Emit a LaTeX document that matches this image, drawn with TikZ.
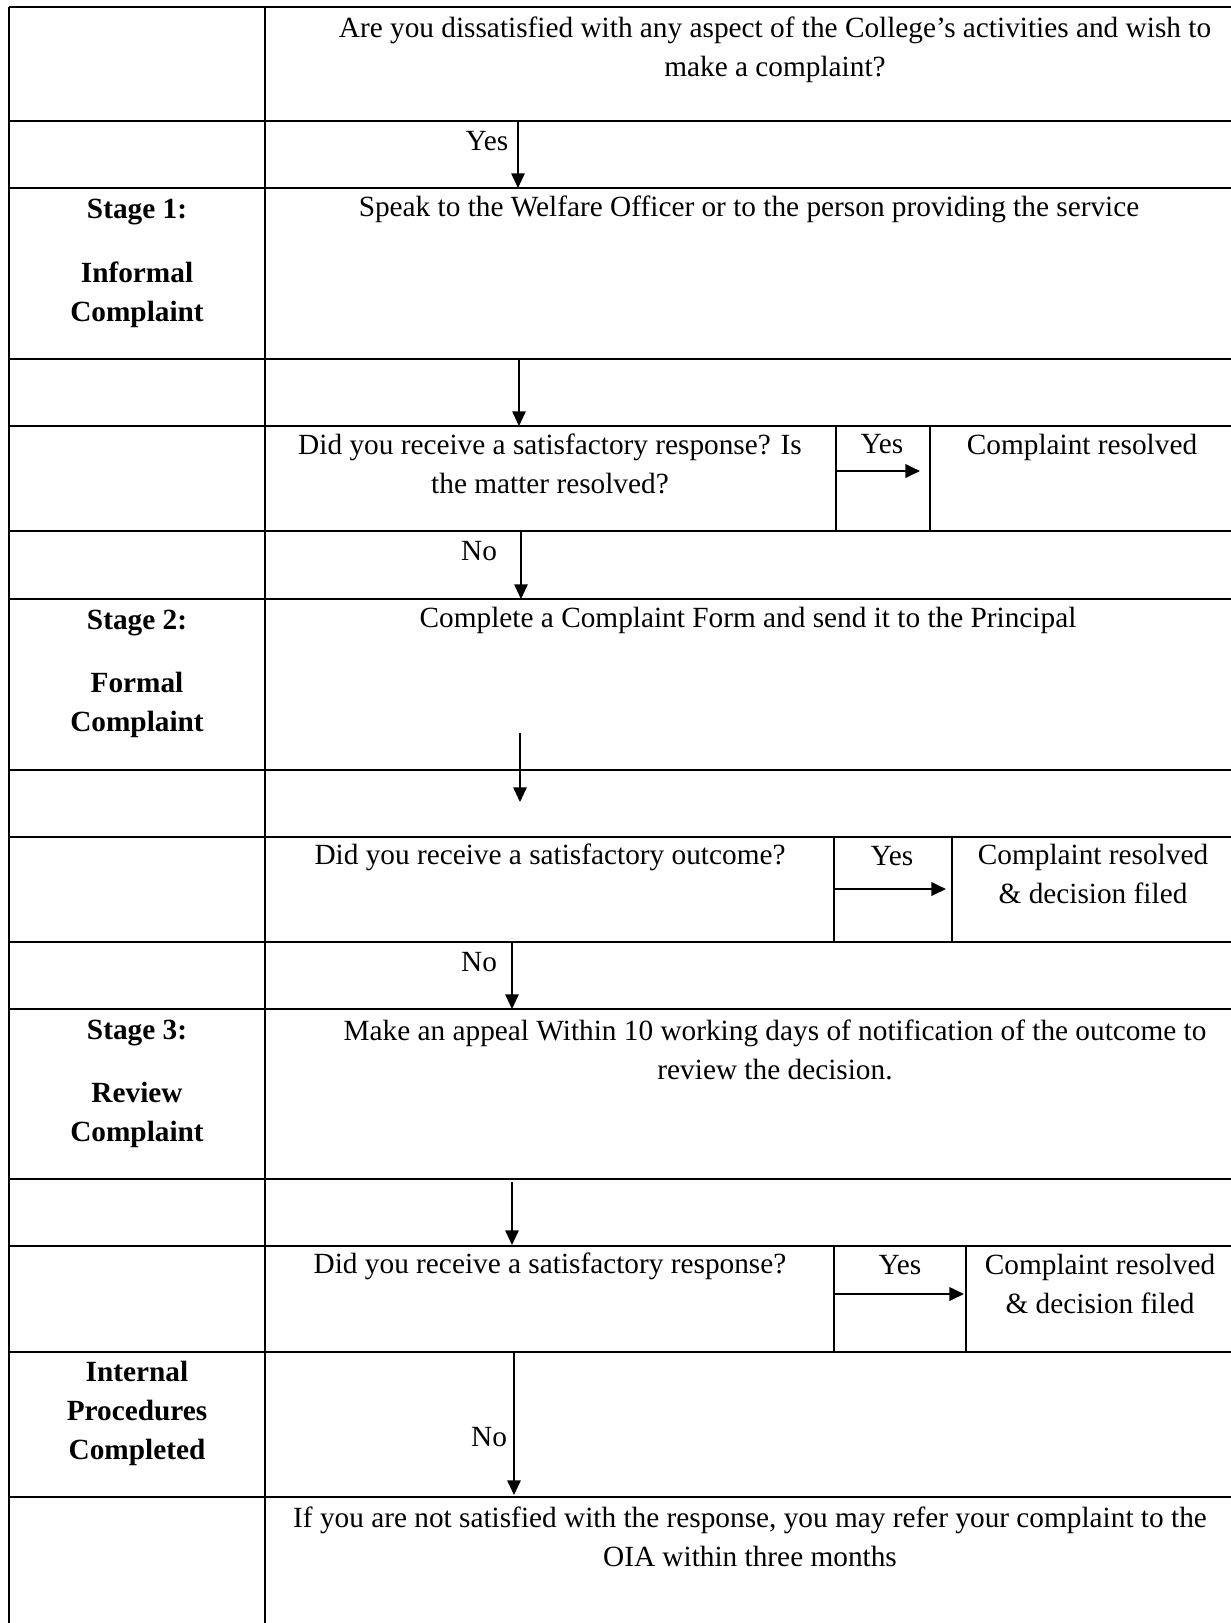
\documentclass[tikz,border=0pt]{standalone}
\usepackage{fontspec}
\setmainfont{Liberation Serif}
\usetikzlibrary{arrows.meta}
\tikzset{
  rule/.style={line width=1pt},
  thinrule/.style={line width=0.75pt},
  flow/.style={-{Triangle[length=6pt,width=5.5pt]}, line width=0.6pt},
  yesflow/.style={-{Triangle[length=6pt,width=5.5pt]}, line width=1pt},
  txt/.style={font=\fontsize{12}{16}\selectfont, align=center, inner sep=0pt},
  stagetxt/.style={txt, font=\fontsize{12}{16}\selectfont\bfseries}
}

\begin{document}
\begin{tikzpicture}[x=0.4096pt,y=-0.4096pt]
  \useasboundingbox (0,0) rectangle (1231,1623);
  \foreach \y in {7,121,188,359,426,531,599,770,837,942,1009,1179,1246,1352,1497}
    \draw[rule] (9,\y) -- (1231,\y);
  \draw[rule] (9,7) -- (9,1623);
  \draw[rule] (265,7) -- (265,1623);
  \draw[thinrule] (836,426) -- (836,531) (930,426) -- (930,531);
  \draw[thinrule] (834,837) -- (834,942) (952,837) -- (952,942);
  \draw[thinrule] (834,1246) -- (834,1352) (966,1246) -- (966,1352);

  \node[txt] (ask) at (775,50) {Are you dissatisfied with any aspect of the College’s activities and wish to\\make a complaint?};
  \node[txt] (speak) at (749,209) {Speak to the Welfare Officer or to the person providing the service};
  \node[stagetxt] (stageone) at (137,263.5) {Stage 1:\\[10pt]Informal\\Complaint};
  \node[txt] (satisfied1) at (550,464) {Did you receive a satisfactory response? Is\\the matter resolved?};
  \node[txt] (resolved1) at (1082,447) {Complaint resolved};
  \node[txt] (formal) at (748,620) {Complete a Complaint Form and send it to the Principal};
  \node[stagetxt] (stagetwo) at (137,674) {Stage 2:\\[10pt]Formal\\Complaint};
  \node[txt] (satisfied2) at (550,857) {Did you receive a satisfactory outcome?};
  \node[txt] (resolved2) at (1093,874) {Complaint resolved\\\& decision filed};
  \node[txt] (appeal) at (775,1050) {Make an appeal Within 10 working days of notification of the outcome to\\review the decision.};
  \node[stagetxt] (stagethree) at (137,1084) {Stage 3:\\[10pt]Review\\Complaint};
  \node[txt] (satisfied3) at (550,1266) {Did you receive a satisfactory response?};
  \node[txt] (resolved3) at (1100,1284) {Complaint resolved\\\& decision filed};
  \node[stagetxt] (internal) at (137,1413) {Internal\\Procedures\\Completed};
  \node[txt] (oia) at (750,1536.5) {If you are not satisfied with the response, you may refer your complaint to the\\OIA within three months};

  \node[txt] (yes0) at (487,141) {Yes};
  \node[txt] (yes1) at (882,444) {Yes};
  \node[txt] (yes2) at (892,856) {Yes};
  \node[txt] (yes3) at (900,1265) {Yes};
  \node[txt] (no1) at (479,551) {No};
  \node[txt] (no2) at (479,962) {No};
  \node[txt] (no3) at (489,1437) {No};

  \coordinate (a0) at (518,121);  \coordinate (b0) at (518,188);
  \coordinate (a1) at (519,359);  \coordinate (b1) at (519,426);
  \coordinate (a2) at (521,531);  \coordinate (b2) at (521,599);
  \coordinate (a3) at (520,733);  \coordinate (b3) at (520,802);
  \coordinate (a4) at (512,942);  \coordinate (b4) at (512,1009);
  \coordinate (a5) at (512,1182); \coordinate (b5) at (512,1245);
  \coordinate (a6) at (514,1352); \coordinate (b6) at (514,1495);
  \coordinate (y1s) at (836,471);  \coordinate (y1e) at (920,471);
  \coordinate (y2s) at (834,889);  \coordinate (y2e) at (946,889);
  \coordinate (y3s) at (834,1294); \coordinate (y3e) at (964,1294);

  \foreach \i in {0,...,6}
    \draw[flow] (a\i) -- (b\i);
  \foreach \i in {1,2,3}
    \draw[yesflow] (y\i s) -- (y\i e);
\end{tikzpicture}
\end{document}
